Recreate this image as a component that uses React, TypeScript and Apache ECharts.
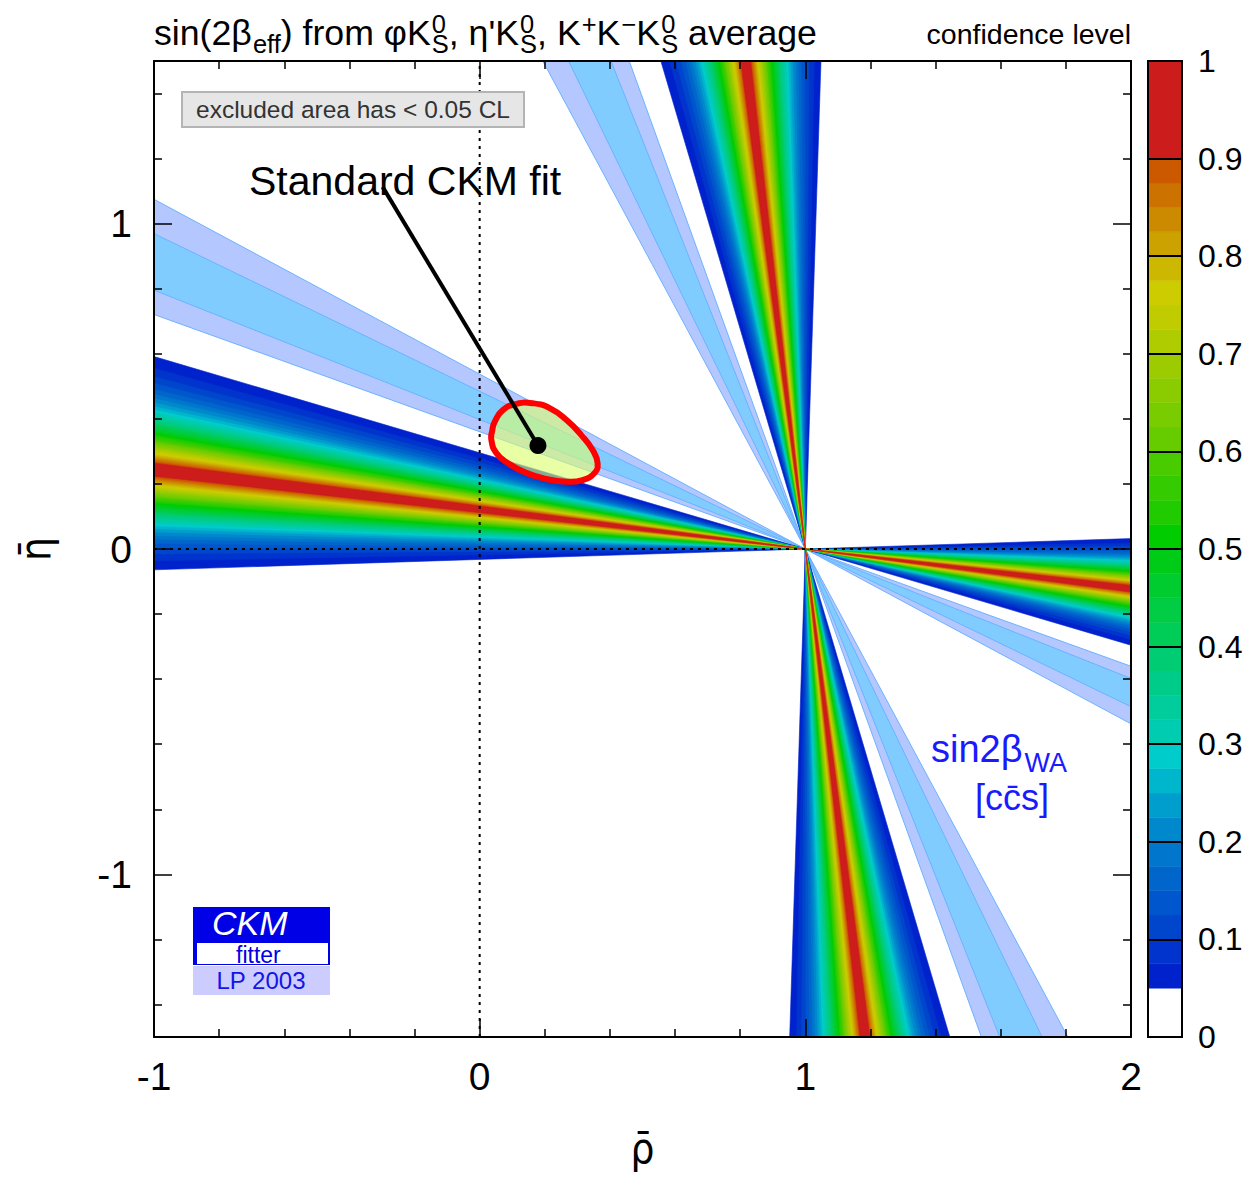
import React, { useEffect, useRef } from "react";
import * as echarts from "echarts";

const CANVAS_W = 1255;
const CANVAS_H = 1178;

// Colour scale steps (lower bound of each step) and their colours
const CL_LEVELS = [0.05, 0.075, 0.1, 0.125, 0.15, 0.175, 0.2, 0.225, 0.25, 0.275, 0.3, 0.325, 0.35, 0.375, 0.4, 0.425, 0.45, 0.475, 0.5, 0.525, 0.55, 0.575, 0.6, 0.625, 0.65, 0.675, 0.7, 0.725, 0.75, 0.775, 0.8, 0.825, 0.85, 0.875, 0.9];
const CL_COLORS = ["#0022cc", "#0034cc", "#0046cc", "#0056cc", "#0066cc", "#0076cc", "#0088cc", "#009ecc", "#00b6cc", "#00cccc", "#00ccb2", "#00cc9c", "#00cc8a", "#00cc74", "#00cc58", "#00cc44", "#00cc30", "#00cc18", "#00cc00", "#20cc00", "#34cc00", "#48cc00", "#66cc00", "#78cc00", "#8acc00", "#9ccc00", "#aecc00", "#c0cc00", "#cccc00", "#ccb800", "#cca200", "#cc8a00", "#cc7200", "#cc5800", "#cc1c1c"];
// sin(2β_eff) interval with CL >= level
const S2B_LOW = [-0.064, -0.036, -0.015, 0.002, 0.017, 0.03, 0.041, 0.052, 0.062, 0.071, 0.079, 0.087, 0.095, 0.103, 0.11, 0.116, 0.123, 0.129, 0.136, 0.142, 0.147, 0.153, 0.159, 0.164, 0.17, 0.175, 0.18, 0.186, 0.191, 0.196, 0.201, 0.206, 0.211, 0.216, 0.221];
const S2B_HIGH = [0.544, 0.516, 0.495, 0.478, 0.463, 0.45, 0.439, 0.428, 0.418, 0.409, 0.401, 0.393, 0.385, 0.378, 0.37, 0.364, 0.357, 0.351, 0.345, 0.339, 0.333, 0.327, 0.321, 0.316, 0.31, 0.305, 0.3, 0.295, 0.289, 0.284, 0.279, 0.274, 0.269, 0.264, 0.26];

// sin2β world average [ccs]: 2σ band, 1σ band
const CCS_LOW = [0.638, 0.687];
const CCS_HIGH = [0.834, 0.785];
const CCS_COLORS = ["#b4c8ff", "#80ccff"];

const APEX = [1, 0];

// Standard CKM fit contour
const FIT_RHO = [0.046, 0.071, 0.113, 0.163, 0.215, 0.266, 0.312, 0.347, 0.362, 0.353, 0.316, 0.266, 0.205, 0.143, 0.086, 0.051, 0.036, 0.039];
const FIT_ETA = [0.391, 0.427, 0.446, 0.448, 0.433, 0.397, 0.35, 0.304, 0.264, 0.234, 0.212, 0.207, 0.215, 0.234, 0.264, 0.295, 0.335, 0.366];
const FIT_CENTER = [0.179, 0.318];
const LABEL_ANCHOR = [-0.298, 1.113];

const X_MIN = -1, X_MAX = 2, Y_MIN = -1.5, Y_MAX = 1.5;
const Y_MAJOR = [-1, 0, 1];
const Y_MINOR = [-1.4, -1.2, -0.8, -0.6, -0.4, -0.2, 0.2, 0.4, 0.6, 0.8, 1.2, 1.4];
const REF_RHO = [0];
const REF_ETA = [0];

const TITLE_PARTS: string[][] = [
  ["m", "sin(2β"], ["sub", "eff"], ["m", ") from φK"], ["ss", "S", "0"], ["m", ", η'K"], ["ss", "S", "0"],
  ["m", ", K"], ["sup", "+"], ["m", "K"], ["sup", "−"], ["m", "K"], ["ss", "S", "0"], ["m", " average"],
];

const SANS = "'Liberation Sans', Arial, Helvetica, sans-serif";
const NAME_FONT = "'DejaVu Sans Condensed', 'DejaVu Sans', sans-serif";

function textWidth(t: string, size: number, family: string, style = "normal") {
  const ctx = document.createElement("canvas").getContext("2d") as CanvasRenderingContext2D;
  ctx.font = `${style} ${size}px ${family}`;
  return ctx.measureText(t).width;
}

// y for verticalAlign middle so that the baseline lands on `base`
const yb = (base: number, size: number) => base - 0.35 * size;

function clipPolygon(points: number[][], x0: number, y0: number, x1: number, y1: number) {
  const planes = [
    { inside: (p: number[]) => p[0] >= x0, cut: (a: number[], b: number[]) => [x0, a[1] + ((x0 - a[0]) / (b[0] - a[0])) * (b[1] - a[1])] },
    { inside: (p: number[]) => p[0] <= x1, cut: (a: number[], b: number[]) => [x1, a[1] + ((x1 - a[0]) / (b[0] - a[0])) * (b[1] - a[1])] },
    { inside: (p: number[]) => p[1] >= y0, cut: (a: number[], b: number[]) => [a[0] + ((y0 - a[1]) / (b[1] - a[1])) * (b[0] - a[0]), y0] },
    { inside: (p: number[]) => p[1] <= y1, cut: (a: number[], b: number[]) => [a[0] + ((y1 - a[1]) / (b[1] - a[1])) * (b[0] - a[0]), y1] },
  ];
  let out = points;
  for (const pl of planes) {
    const input = out;
    out = [];
    if (!input.length) break;
    for (let i = 0; i < input.length; i++) {
      const cur = input[i];
      const prev = input[(i + input.length - 1) % input.length];
      const ci = pl.inside(cur), pi = pl.inside(prev);
      if (ci) {
        if (!pi) out.push(pl.cut(prev, cur));
        out.push(cur);
      } else if (pi) out.push(pl.cut(prev, cur));
    }
  }
  return out;
}

// direction from the apex for angle beta and each of the four ambiguities
function direction(beta: number, amb: number) {
  const c = Math.cos(beta), s = Math.sin(beta);
  if (amb === 0) return [-c, s];
  if (amb === 1) return [-s, c];
  if (amb === 2) return [c, -s];
  return [s, -c];
}

const REACH = 5;
function rayPolygon(params: any, api: any, s2bLo: number, s2bHi: number, amb: number) {
  const b1 = Math.asin(s2bLo) / 2, b2 = Math.asin(s2bHi) / 2;
  const d1 = direction(b1, amb), d2 = direction(b2, amb);
  const apex = api.coord(APEX);
  const p1 = api.coord([APEX[0] + REACH * d1[0], APEX[1] + REACH * d1[1]]);
  const p2 = api.coord([APEX[0] + REACH * d2[0], APEX[1] + REACH * d2[1]]);
  const cs = params.coordSys;
  return clipPolygon([apex, p1, p2], cs.x, cs.y, cs.x + cs.width, cs.y + cs.height);
}

export default function App() {
  const ref = useRef<HTMLDivElement>(null);
  useEffect(() => {
    document.body.style.margin = "0";
    const chart = echarts.init(ref.current as HTMLDivElement, undefined, { renderer: "svg" });

    // title built from pieces (stacked sub/superscripts), squeezed to the reference width
    const mainFs = 35, subFs = 25;
    const baseMain = 45, baseSub = 53, baseSup = 33;
    const titleChildren: any[] = [];
    let tx = 0;
    const tText = (x: number, base: number, t: string, fs: number) => ({
      type: "text", x, y: yb(base, fs),
      style: { text: t, fontSize: fs, fontFamily: SANS, fill: "#000", align: "left", verticalAlign: "middle", lineHeight: fs * 0.8 },
    });
    for (const p of TITLE_PARTS) {
      if (p[0] === "m") {
        titleChildren.push(tText(tx, baseMain, p[1], mainFs));
        tx += textWidth(p[1], mainFs, SANS);
      } else if (p[0] === "sub") {
        titleChildren.push(tText(tx + 1, baseSub, p[1], subFs));
        tx += textWidth(p[1], subFs, SANS) + 1;
      } else if (p[0] === "sup") {
        titleChildren.push(tText(tx + 1, baseSup, p[1], subFs));
        tx += textWidth(p[1], subFs, SANS) + 1;
      } else {
        titleChildren.push(tText(tx + 1, baseSub, p[1], subFs));
        titleChildren.push(tText(tx + 1, baseSup, p[2], subFs));
        tx += Math.max(textWidth(p[1], subFs, SANS), textWidth(p[2], subFs, SANS)) + 1;
      }
    }
    const titleScale = 663 / tx;

    const sinW = textWidth("sin2β", 38, SANS);

    const wedgeData: number[][] = [];
    CL_LEVELS.forEach((_, i) => {
      for (let a = 0; a < 4; a++) wedgeData.push([APEX[0], APEX[1], i, a]);
    });
    const bandData: number[][] = [];
    CCS_LOW.forEach((_, i) => {
      for (let a = 0; a < 4; a++) bandData.push([APEX[0], APEX[1], i, a]);
    });

    const blk = { color: "#000", width: 2 };
    const tickStyle = { color: "#000", width: 1.5 };

    const option: any = {
      animation: false,
      backgroundColor: "#fff",
      grid: [
        { left: 154, top: 61, width: 977, height: 976 },
        { left: 1148, top: 61, width: 34, height: 976 },
      ],
      xAxis: [
        {
          gridIndex: 0, type: "value", min: X_MIN, max: X_MAX, interval: 1, position: "bottom", z: 10,
          axisLine: { show: true, onZero: false, lineStyle: blk },
          axisTick: { show: true, inside: true, length: 18, lineStyle: tickStyle },
          minorTick: { show: true, splitNumber: 5, length: 8, lineStyle: tickStyle },
          splitLine: { show: false }, minorSplitLine: { show: false },
          axisLabel: { fontSize: 39, fontFamily: SANS, color: "#000", margin: 20 },
          name: "ρ\u0304", nameLocation: "middle", nameGap: 90,
          nameTextStyle: { fontSize: 42, fontFamily: NAME_FONT, color: "#000" },
        },
        {
          gridIndex: 0, type: "value", min: X_MIN, max: X_MAX, interval: 1, position: "top", z: 10,
          axisLine: { show: true, onZero: false, lineStyle: blk },
          axisTick: { show: true, inside: true, length: 18, lineStyle: tickStyle },
          minorTick: { show: true, splitNumber: 5, length: 8, lineStyle: tickStyle },
          splitLine: { show: false }, axisLabel: { show: false },
        },
        { gridIndex: 1, type: "value", min: 0, max: 1, show: false },
      ],
      yAxis: [
        {
          gridIndex: 0, type: "value", min: Y_MIN, max: Y_MAX, position: "left", z: 10,
          axisLine: { show: true, onZero: false, lineStyle: blk },
          axisTick: { show: true, inside: true, length: 18, lineStyle: tickStyle, customValues: Y_MAJOR },
          splitLine: { show: false },
          axisLabel: { fontSize: 39, fontFamily: SANS, color: "#000", margin: 22, customValues: Y_MAJOR },
          name: "η\u0304", nameLocation: "middle", nameRotate: 90, nameGap: 98,
          nameTextStyle: { fontSize: 42, fontFamily: NAME_FONT, color: "#000" },
        },
        {
          gridIndex: 0, type: "value", min: Y_MIN, max: Y_MAX, position: "left", z: 10,
          axisLine: { show: false, onZero: false },
          axisTick: { show: true, inside: true, length: 8, lineStyle: tickStyle, customValues: Y_MINOR },
          splitLine: { show: false }, axisLabel: { show: false },
        },
        {
          gridIndex: 0, type: "value", min: Y_MIN, max: Y_MAX, position: "right", z: 10,
          axisLine: { show: true, onZero: false, lineStyle: blk },
          axisTick: { show: true, inside: true, length: 18, lineStyle: tickStyle, customValues: Y_MAJOR },
          splitLine: { show: false }, axisLabel: { show: false },
        },
        {
          gridIndex: 0, type: "value", min: Y_MIN, max: Y_MAX, position: "right", z: 10,
          axisLine: { show: false, onZero: false },
          axisTick: { show: true, inside: true, length: 8, lineStyle: tickStyle, customValues: Y_MINOR },
          splitLine: { show: false }, axisLabel: { show: false },
        },
        {
          gridIndex: 1, type: "value", min: 0, max: 1, interval: 0.1, position: "right", z: 10,
          axisLine: { show: true, onZero: false, lineStyle: blk },
          axisTick: { show: false },
          splitLine: { show: true, lineStyle: blk },
          axisLabel: { fontSize: 32, fontFamily: SANS, color: "#000", margin: 16 },
        },
      ],
      series: [
        {
          type: "custom", name: "sin2β WA [ccs]", xAxisIndex: 0, yAxisIndex: 0, z: 2,
          encode: { x: 0, y: 1 }, data: bandData, silent: true,
          renderItem: (params: any, api: any) => {
            const i = api.value(2), a = api.value(3);
            return {
              type: "polygon",
              shape: { points: rayPolygon(params, api, CCS_LOW[i], CCS_HIGH[i], a) },
              style: { fill: CCS_COLORS[i], stroke: "#6cb2ff", lineWidth: 1 },
            };
          },
        },
        {
          type: "custom", name: "sin(2β_eff) CL", xAxisIndex: 0, yAxisIndex: 0, z: 2,
          encode: { x: 0, y: 1 }, data: wedgeData, silent: true,
          renderItem: (params: any, api: any) => {
            const i = api.value(2), a = api.value(3);
            return {
              type: "polygon",
              shape: { points: rayPolygon(params, api, S2B_LOW[i], S2B_HIGH[i], a) },
              style: { fill: CL_COLORS[i], stroke: CL_COLORS[i], lineWidth: 0.6 },
            };
          },
        },
        {
          type: "custom", name: "reference lines", xAxisIndex: 0, yAxisIndex: 0, z: 3,
          encode: { x: 0, y: 1 }, data: [[REF_RHO[0], REF_ETA[0]]], silent: true,
          renderItem: (params: any, api: any) => {
            const v1 = api.coord([REF_RHO[0], Y_MIN]), v2 = api.coord([REF_RHO[0], Y_MAX]);
            const h1 = api.coord([X_MIN, REF_ETA[0]]), h2 = api.coord([X_MAX, REF_ETA[0]]);
            const st = { stroke: "#000", lineWidth: 2, lineDash: [3, 5] };
            return {
              type: "group",
              children: [
                { type: "line", shape: { x1: v1[0], y1: v1[1], x2: v2[0], y2: v2[1] }, style: st },
                { type: "line", shape: { x1: h1[0], y1: h1[1], x2: h2[0], y2: h2[1] }, style: st },
              ],
            };
          },
        },
        {
          type: "custom", name: "Standard CKM fit", xAxisIndex: 0, yAxisIndex: 0, z: 4,
          encode: { x: 0, y: 1 }, data: [[FIT_CENTER[0], FIT_CENTER[1]]], silent: true,
          renderItem: (params: any, api: any) => {
            const pts = FIT_RHO.map((r, k) => api.coord([r, FIT_ETA[k]]));
            const c = api.coord(FIT_CENTER);
            const s = api.coord(LABEL_ANCHOR);
            return {
              type: "group",
              children: [
                { type: "polygon", shape: { points: pts, smooth: 0.5 }, style: { fill: "rgba(220,255,110,0.62)", stroke: "#ff0000", lineWidth: 6 } },
                { type: "line", shape: { x1: s[0], y1: s[1], x2: c[0], y2: c[1] }, style: { stroke: "#000", lineWidth: 4 } },
                { type: "circle", shape: { cx: c[0], cy: c[1], r: 8.5 }, style: { fill: "#000" } },
              ],
            };
          },
        },
        {
          type: "custom", name: "colour scale", xAxisIndex: 2, yAxisIndex: 4, z: 2,
          encode: { x: 0, y: 1 }, data: CL_LEVELS.map((l, i) => [0.5, l, i]), silent: true,
          renderItem: (params: any, api: any) => {
            const i = api.value(2);
            const lo = CL_LEVELS[i];
            const hi = i + 1 < CL_LEVELS.length ? CL_LEVELS[i + 1] : 1;
            const p0 = api.coord([0, hi]), p1 = api.coord([1, lo]);
            return {
              type: "rect",
              shape: { x: p0[0], y: p0[1], width: p1[0] - p0[0], height: p1[1] - p0[1] },
              style: { fill: CL_COLORS[i], stroke: CL_COLORS[i], lineWidth: 0.5 },
            };
          },
        },
        {
          type: "custom", name: "colour scale frame", xAxisIndex: 2, yAxisIndex: 4, z: 3,
          encode: { x: 0, y: 1 }, data: [[0.5, 0.5]], silent: true,
          renderItem: (params: any) => {
            const cs = params.coordSys;
            return { type: "rect", shape: { x: cs.x, y: cs.y, width: cs.width, height: cs.height }, style: { fill: "none", stroke: "#000", lineWidth: 2 } };
          },
        },
      ],
      graphic: [
        { type: "group", x: 154, y: 0, scaleX: titleScale, z: 100, children: titleChildren },
        { type: "text", x: 1131, y: yb(44, 28.5), z: 100, style: { text: "confidence level", fontSize: 28.5, fontFamily: SANS, fill: "#000", align: "right", verticalAlign: "middle" } },
        { type: "rect", z: 100, shape: { x: 182, y: 92, width: 342, height: 35 }, style: { fill: "#e6e6e6", stroke: "#b4b4b4", lineWidth: 2 } },
        { type: "text", x: 196, y: yb(118, 24.5), z: 101, style: { text: "excluded area has < 0.05 CL", fontSize: 24.5, fontFamily: SANS, fill: "#333", align: "left", verticalAlign: "middle" } },
        { type: "text", x: 249, y: yb(195, 41), z: 100, style: { text: "Standard CKM fit", fontSize: 41, fontFamily: SANS, fill: "#000", align: "left", verticalAlign: "middle" } },
        { type: "text", x: 931, y: yb(762, 38), z: 100, style: { text: "sin2β", fontSize: 38, fontFamily: SANS, fill: "#1a1aff", align: "left", verticalAlign: "middle", lineHeight: 32 } },
        { type: "text", x: 931 + sinW + 2, y: yb(772, 27), z: 100, style: { text: "WA", fontSize: 27, fontFamily: SANS, fill: "#1a1aff", align: "left", verticalAlign: "middle", lineHeight: 20 } },
        { type: "text", x: 975, y: yb(810, 36), z: 100, style: { text: "[cc\u0304s]", fontSize: 36, fontFamily: SANS, fill: "#1a1aff", align: "left", verticalAlign: "middle", lineHeight: 28 } },
        { type: "rect", z: 100, shape: { x: 193, y: 907, width: 137, height: 58 }, style: { fill: "#0000e6" } },
        { type: "rect", z: 101, shape: { x: 197, y: 943, width: 131, height: 21 }, style: { fill: "#ffffff" } },
        { type: "text", x: 212, y: yb(935, 34), z: 102, style: { text: "CKM", fontSize: 34, fontStyle: "italic", fontFamily: SANS, fill: "#ffffff", align: "left", verticalAlign: "middle", lineHeight: 26 } },
        { type: "text", x: 236, y: yb(963, 23), z: 102, style: { text: "fitter", fontSize: 23, fontFamily: SANS, fill: "#0000e6", align: "left", verticalAlign: "middle", lineHeight: 18 } },
        { type: "rect", z: 100, shape: { x: 193, y: 966, width: 137, height: 29 }, style: { fill: "#ccccff" } },
        { type: "text", x: 261, y: yb(989, 24), z: 102, style: { text: "LP 2003", fontSize: 24, fontFamily: SANS, fill: "#1414e6", align: "center", verticalAlign: "middle", lineHeight: 20 } },
      ],
    };
    chart.setOption(option);
    return () => chart.dispose();
  }, []);
  return <div ref={ref} style={{ position: "absolute", left: 0, top: 0, width: CANVAS_W, height: CANVAS_H }} />;
}
